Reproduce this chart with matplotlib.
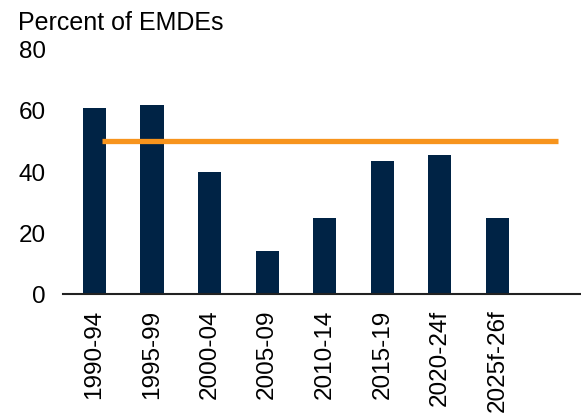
import matplotlib
matplotlib.use("Agg")
import matplotlib.pyplot as plt
import numpy as np

categories = ["1990-94", "1995-99", "2000-04", "2005-09", "2010-14", "2015-19", "2020-24f", "2025f-26f"]
values = [61, 62, 40, 14, 25, 43.5, 45.5, 25]
threshold = 50

plt.rcParams['font.family'] = ['Liberation Sans', 'DejaVu Sans']

fig = plt.figure(figsize=(5.81, 4.16), dpi=100)
ax = fig.add_axes([0.108, 0.293, 0.892, 0.587])
x = np.arange(len(categories))
ax.bar(x, values, width=0.4, color="#002345", zorder=2)
ax.hlines(threshold, 0.13, len(categories) + 0.05, color="#F7941D", linewidth=3.8, zorder=3)

ax.set_xlim(-0.55, len(categories) + 0.45)
ax.set_ylim(0, 80)
ax.set_yticks([0, 20, 40, 60, 80])
ax.set_xticks(x)
ax.set_xticklabels(categories, rotation=90, fontsize=17.5)
ax.tick_params(axis='y', length=0, pad=12, labelsize=17.5)
ax.tick_params(axis='x', length=0, pad=11)
for s in ["top", "right", "left"]:
    ax.spines[s].set_visible(False)
ax.spines["bottom"].set_color("#222222")
ax.spines["bottom"].set_linewidth(1.5)

fig.text(18/581, 1 - 30/416, "Percent of EMDEs", fontsize=18, ha="left", va="baseline")

fig.savefig("out.png", dpi=100)
